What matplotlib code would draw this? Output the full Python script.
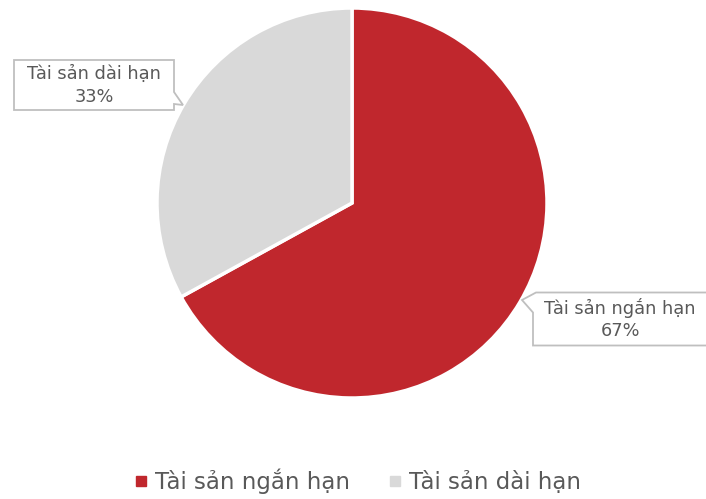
import matplotlib.pyplot as plt
import numpy as np
from matplotlib.patches import Polygon

plt.rcParams['font.family'] = ['DejaVu Sans']

labels = ['Tài sản ngắn hạn', 'Tài sản dài hạn']
values = [67, 33]
colors = ['#C0272D', '#D9D9D9']
text_color = '#595959'

W, H = 706, 499
fig = plt.figure(figsize=(W / 100, H / 100), dpi=100)
ax = fig.add_axes([0, 0, 1, 1])

cx, cy, r = 352, H - 203, 195
wedges, _ = ax.pie(values, colors=colors, startangle=90, counterclock=False,
                   center=(cx, cy), radius=r, frame=True,
                   wedgeprops=dict(edgecolor='white', linewidth=2.5))
ax.set_xlim(0, W)
ax.set_ylim(0, H)
ax.set_aspect('equal')
ax.axis('off')


def callout(tx, ty, text, bw, bh, tip, side):
    # box centred on (tx, ty), with a small pointer towards tip
    x0, x1 = tx - bw / 2, tx + bw / 2
    y0, y1 = ty - bh / 2, ty + bh / 2
    if side == 'right':
        pts = [(x0, y0), (x1, y0), (x1, y0 + 6), tip, (x1, y0 + 18), (x1, y1), (x0, y1)]
    else:
        pts = [(x0, y0), (x1, y0), (x1, y1), (x0 + 3, y1), tip, (x0, y1 - 20)]
    ax.add_patch(Polygon(pts, closed=True, facecolor='white', edgecolor='#BFBFBF',
                         linewidth=1.3, zorder=5))
    ax.text(tx, ty, text, ha='center', va='center', fontsize=12.8,
            color=text_color, linespacing=1.35, zorder=6)


pcts = [f'{v}%' for v in values]
callout(620, H - 319, labels[0] + '\n' + pcts[0], 174, 53, (522, H - 300), 'left')
callout(94, H - 85, labels[1] + '\n' + pcts[1], 160, 50, (183, H - 105), 'right')

handles = [plt.Line2D([], [], marker='s', linestyle='', markersize=6.5,
                      markerfacecolor=c, markeredgecolor=c) for c in colors]
fig.legend(handles, labels, loc='center', bbox_to_anchor=(357 / W, 1 - 481 / H),
           ncol=2, frameon=False, fontsize=16.5, labelcolor=text_color,
           handletextpad=0.25, columnspacing=1.6, handlelength=0.7)

fig.savefig('out.png', dpi=100, facecolor='white')
